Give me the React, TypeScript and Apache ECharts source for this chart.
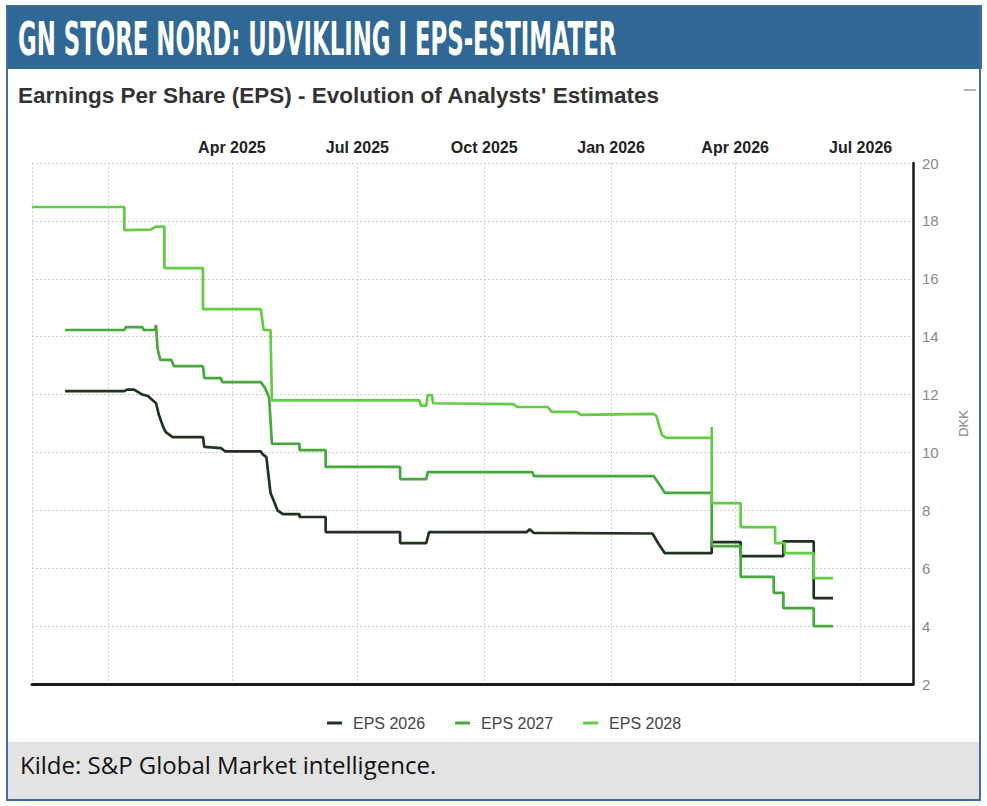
import React, { useEffect, useRef } from 'react';
import * as echarts from 'echarts';

const HEADER = 'GN STORE NORD: UDVIKLING I EPS-ESTIMATER';
const CHART_TITLE = "Earnings Per Share (EPS) - Evolution of Analysts' Estimates";
const SOURCE = 'Kilde: S&P Global Market intelligence.';
const SERIES_NAMES = ['EPS 2026', 'EPS 2027', 'EPS 2028'];
const SERIES_COLORS = ['#1e3320', '#45a83b', '#63cc45'];
const MONTHS = ['Jan', 'Feb', 'Mar', 'Apr', 'May', 'Jun', 'Jul', 'Aug', 'Sep', 'Oct', 'Nov', 'Dec'];
const HIDDEN_TICK_LABELS = ['Jan 2025'];
const Y_MIN = 2;
const Y_MAX = 20;
const Y_STEP = 2;
const X_START = '2024-11-07';
const X_END = '2026-08-08';
const Y_NAME = 'DKK';

const eps2026: [string, number][] = [
  ['2024-12-01', 12.12], ['2025-01-13', 12.12], ['2025-01-15', 12.17], ['2025-01-20', 12.17],
  ['2025-01-26', 12.0], ['2025-01-30', 11.95], ['2025-02-05', 11.7], ['2025-02-07', 11.3],
  ['2025-02-10', 10.9], ['2025-02-12', 10.7], ['2025-02-17', 10.53], ['2025-03-11', 10.53],
  ['2025-03-12', 10.19], ['2025-03-24', 10.15], ['2025-03-27', 10.04], ['2025-04-22', 10.04],
  ['2025-04-23', 9.95], ['2025-04-26', 9.84], ['2025-04-29', 8.6], ['2025-05-02', 8.25],
  ['2025-05-04', 8.0], ['2025-05-08', 7.87], ['2025-05-20', 7.87], ['2025-05-20', 7.77],
  ['2025-06-08', 7.77], ['2025-06-08', 7.25], ['2025-08-01', 7.25], ['2025-08-01', 6.87],
  ['2025-08-20', 6.87], ['2025-08-22', 7.25], ['2025-11-01', 7.25], ['2025-11-03', 7.35],
  ['2025-11-06', 7.22], ['2026-01-31', 7.2], ['2026-02-05', 6.8], ['2026-02-09', 6.52],
  ['2026-03-15', 6.52], ['2026-03-15', 6.9], ['2026-04-05', 6.9], ['2026-04-05', 6.42],
  ['2026-05-06', 6.42], ['2026-05-06', 6.93], ['2026-05-28', 6.93], ['2026-05-28', 4.97],
  ['2026-06-11', 4.97],
];

const eps2027: [string, number][] = [
  ['2024-12-01', 14.23], ['2025-01-13', 14.23], ['2025-01-14', 14.33], ['2025-01-26', 14.33],
  ['2025-01-27', 14.23], ['2025-02-04', 14.23], ['2025-02-05', 14.4], ['2025-02-06', 13.6],
  ['2025-02-08', 13.2], ['2025-02-16', 13.2], ['2025-02-18', 12.98], ['2025-03-11', 12.98],
  ['2025-03-12', 12.57], ['2025-03-24', 12.57], ['2025-03-25', 12.43], ['2025-04-22', 12.43],
  ['2025-04-25', 12.23], ['2025-04-28', 11.9], ['2025-04-30', 10.3], ['2025-05-20', 10.3],
  ['2025-05-20', 10.08], ['2025-06-08', 10.08], ['2025-06-08', 9.5], ['2025-08-01', 9.5],
  ['2025-08-01', 9.08], ['2025-08-20', 9.08], ['2025-08-21', 9.32], ['2025-11-05', 9.32],
  ['2025-11-06', 9.18], ['2026-02-01', 9.18], ['2026-02-05', 8.9], ['2026-02-09', 8.6],
  ['2026-03-15', 8.6], ['2026-03-15', 6.76], ['2026-04-05', 6.76], ['2026-04-05', 5.7],
  ['2026-04-29', 5.7], ['2026-04-29', 5.15], ['2026-05-06', 5.15], ['2026-05-06', 4.62],
  ['2026-05-28', 4.62], ['2026-05-28', 4.0], ['2026-06-11', 4.0],
];

const eps2028: [string, number][] = [
  ['2024-11-07', 18.48], ['2025-01-13', 18.48], ['2025-01-13', 17.68], ['2025-02-01', 17.7],
  ['2025-02-05', 17.8], ['2025-02-11', 17.8], ['2025-02-11', 16.37], ['2025-03-11', 16.37],
  ['2025-03-11', 14.95], ['2025-04-22', 14.95], ['2025-04-24', 14.23], ['2025-04-29', 14.23],
  ['2025-04-30', 11.8], ['2025-08-15', 11.8], ['2025-08-16', 11.62], ['2025-08-20', 11.62],
  ['2025-08-21', 11.98], ['2025-08-24', 11.98], ['2025-08-25', 11.7], ['2025-10-22', 11.67],
  ['2025-10-25', 11.57], ['2025-11-16', 11.57], ['2025-11-19', 11.4], ['2025-12-07', 11.4],
  ['2025-12-10', 11.3], ['2026-02-01', 11.33], ['2026-02-03', 11.25], ['2026-02-05', 10.9],
  ['2026-02-07', 10.6], ['2026-02-10', 10.5], ['2026-03-15', 10.5], ['2026-03-15', 10.88],
  ['2026-03-15', 8.25], ['2026-04-05', 8.25], ['2026-04-05', 7.42], ['2026-04-30', 7.42],
  ['2026-04-30', 6.87], ['2026-05-07', 6.87], ['2026-05-07', 6.52], ['2026-05-28', 6.52],
  ['2026-05-28', 5.66], ['2026-06-11', 5.66],
];

const SERIES_DATA = [eps2026, eps2027, eps2028];

const W = 987;
const H = 806;
const FONT = '"Liberation Sans", Arial, sans-serif';
const DAY = 86400000;

function ts(s: string): number {
  const [y, m, d] = s.split('-').map(Number);
  return new Date(y, m - 1, d).getTime();
}

function measure(text: string, font: string): number {
  const c = document.createElement('canvas').getContext('2d');
  if (!c) return 600;
  c.font = font;
  return c.measureText(text).width;
}

export default function App() {
  const ref = useRef<HTMLDivElement>(null);

  useEffect(() => {
    if (!ref.current) return;
    document.body.style.margin = '0';
    const chart = echarts.init(ref.current, undefined, { renderer: 'svg' });

    const headerFont = 'bold 47px "Liberation Sans Narrow", "DejaVu Sans Condensed", sans-serif';
    const headerScale = 599 / measure(HEADER, headerFont);

    const option: any = {
      animation: false,
      backgroundColor: '#ffffff',
      textStyle: { fontFamily: FONT },
      graphic: [
        { type: 'rect', z: -10, shape: { x: 6, y: 5, width: 976, height: 64 }, style: { fill: '#2f6894' } },
        { type: 'rect', z: -10, shape: { x: 8, y: 742, width: 971, height: 57 }, style: { fill: '#e3e3e3' } },
        { type: 'rect', z: -9, shape: { x: 7, y: 6, width: 973, height: 794 }, style: { fill: 'none', stroke: '#3b6f9a', lineWidth: 2 } },
        {
          type: 'text', x: 18, y: 39, scaleX: headerScale,
          style: { text: HEADER, fill: '#ffffff', font: headerFont, verticalAlign: 'middle', align: 'left' },
        },
        {
          type: 'text', x: 18, y: 95,
          style: { text: CHART_TITLE, fill: '#333333', font: 'bold 22.5px ' + FONT, verticalAlign: 'middle', align: 'left' },
        },
        { type: 'line', shape: { x1: 964, y1: 90, x2: 976, y2: 90 }, style: { stroke: '#b5b5b5', lineWidth: 2 } },
        {
          type: 'text', x: 20, y: 764,
          style: { text: SOURCE, fill: '#111111', font: '24px "Open Sans", sans-serif', verticalAlign: 'middle', align: 'left' },
        },
      ],
      legend: {
        left: 322, top: 710, icon: 'rect', itemWidth: 15, itemHeight: 3, itemGap: 30,
        textStyle: { color: '#444', fontSize: 16, fontFamily: FONT, padding: [0, 0, 0, 6] },
        data: SERIES_NAMES,
      },
      grid: { left: 32, right: W - 913, top: 163, bottom: H - 684 },
      xAxis: [
        {
          type: 'time', position: 'top', min: ts(X_START), max: ts(X_END),
          splitNumber: 5, minInterval: 120 * DAY, maxInterval: 120 * DAY,
          axisLine: { show: false }, axisTick: { show: false },
          axisLabel: {
            margin: 8, fontSize: 16, fontWeight: 'bold', color: '#222', fontFamily: FONT,
            formatter: (v: number) => {
              const d = new Date(v);
              const s = MONTHS[d.getMonth()] + ' ' + d.getFullYear();
              return HIDDEN_TICK_LABELS.includes(s) ? '' : s;
            },
          },
          splitLine: { show: true, lineStyle: { type: [2, 2], color: '#d0d0d0', width: 1 } },
        },
        {
          type: 'time', position: 'bottom', min: ts(X_START), max: ts(X_END),
          axisLine: { show: true, lineStyle: { color: '#1a1a1a', width: 3 } },
          axisTick: { show: false }, axisLabel: { show: false }, splitLine: { show: false },
        },
      ],
      yAxis: {
        type: 'value', position: 'right', min: Y_MIN, max: Y_MAX, interval: Y_STEP,
        name: Y_NAME, nameLocation: 'middle', nameGap: 44, nameRotate: 90,
        nameTextStyle: { color: '#888', fontSize: 13, fontFamily: FONT },
        axisLine: { show: true, lineStyle: { color: '#1a1a1a', width: 2.5 } },
        axisTick: { show: false },
        axisLabel: { color: '#888', fontSize: 15, margin: 9, fontFamily: FONT },
        splitLine: { show: true, lineStyle: { type: [2, 2], color: '#cccccc', width: 1 } },
      },
      series: SERIES_NAMES.map((name, i) => ({
        name, type: 'line', xAxisIndex: 0,
        data: SERIES_DATA[i].map(([d, v]) => [ts(d), v]),
        showSymbol: false, symbol: 'none',
        color: SERIES_COLORS[i],
        lineStyle: { color: SERIES_COLORS[i], width: 2.7 },
        z: 2 + i,
      })),
    };

    chart.setOption(option);
    return () => chart.dispose();
  }, []);

  return <div ref={ref} style={{ position: 'absolute', left: 0, top: 0, width: W, height: H }} />;
}
